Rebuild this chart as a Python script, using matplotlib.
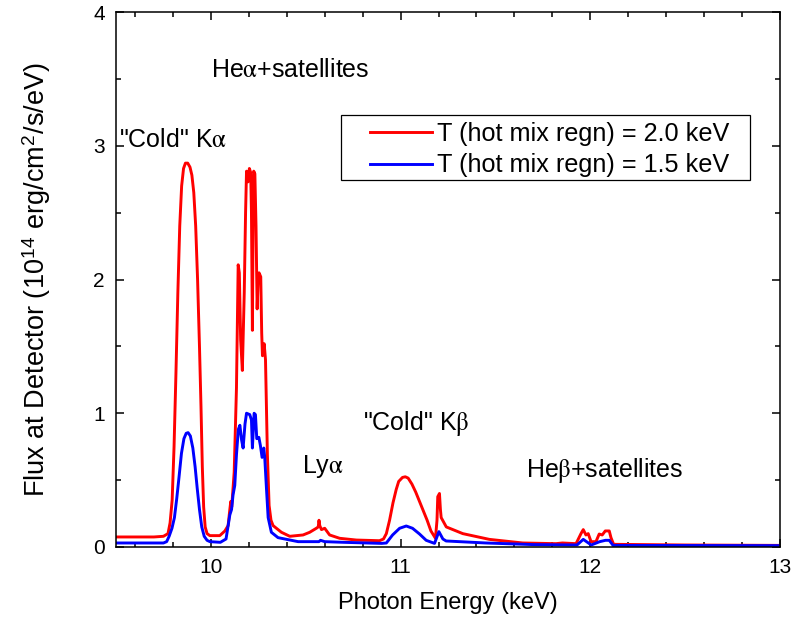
import matplotlib
matplotlib.use("Agg")
import matplotlib.pyplot as plt
from matplotlib.ticker import MultipleLocator
from matplotlib.patches import Rectangle

plt.rcParams['font.family'] = ['Liberation Sans', 'DejaVu Sans']
plt.rcParams['mathtext.fontset'] = 'stix'

# ---- data ----
red_energy = [9.50, 9.70, 9.75, 9.774, 9.785, 9.796, 9.806, 9.816, 9.826, 9.836, 9.846, 9.856, 9.866,
              9.878, 9.890, 9.900, 9.910, 9.920, 9.930, 9.940, 9.948, 9.955, 9.962, 9.970, 9.980,
              9.995, 10.047,
              10.074, 10.091, 10.100, 10.105, 10.110, 10.123, 10.135, 10.144, 10.150, 10.157, 10.166,
              10.176, 10.183, 10.188, 10.196, 10.203, 10.210, 10.214, 10.219, 10.223, 10.226, 10.232,
              10.238, 10.244, 10.249, 10.254, 10.263, 10.268, 10.272, 10.281, 10.288, 10.298, 10.307,
              10.317, 10.328, 10.372, 10.416, 10.486, 10.521, 10.556, 10.566, 10.570, 10.574, 10.583,
              10.600, 10.626, 10.679, 10.767, 10.889, 10.910, 10.925, 10.942, 10.960, 10.977, 10.990,
              11.010, 11.025, 11.040, 11.060, 11.080, 11.100, 11.120, 11.140, 11.160, 11.184, 11.192,
              11.196, 11.205, 11.210, 11.214, 11.241,
              11.328, 11.468, 11.644, 11.819, 11.853, 11.925, 11.951, 11.963, 11.977, 11.989, 12.004,
              12.030, 12.047, 12.063, 12.079, 12.100, 12.109, 12.123, 12.500, 13.000]
red_flux = [0.075, 0.075, 0.08, 0.10, 0.18, 0.35, 0.75, 1.30, 1.90, 2.40, 2.70, 2.83, 2.87,
            2.87, 2.84, 2.78, 2.65, 2.40, 2.00, 1.50, 1.05, 0.60, 0.30, 0.15, 0.10,
            0.085, 0.085,
            0.12, 0.16, 0.28, 0.34, 0.30, 0.56, 1.19, 2.11, 2.05, 1.55, 1.32,
            1.90, 2.50, 2.81, 2.73, 2.83, 2.80, 2.50, 1.62, 2.50, 2.81, 2.79,
            2.40, 1.78, 2.00, 2.05, 2.02, 1.60, 1.43, 1.52, 1.40, 0.69, 0.31,
            0.20, 0.16, 0.11, 0.08, 0.09, 0.11, 0.14, 0.15, 0.20, 0.16, 0.13,
            0.14, 0.09, 0.065, 0.052, 0.047, 0.06, 0.10, 0.20, 0.33, 0.43, 0.49,
            0.52, 0.525, 0.515, 0.47, 0.41, 0.34, 0.27, 0.20, 0.12, 0.065, 0.20,
            0.376, 0.40, 0.28, 0.22, 0.15,
            0.10, 0.057, 0.03, 0.025, 0.03, 0.025, 0.10, 0.13, 0.09, 0.10, 0.04,
            0.04, 0.097, 0.09, 0.12, 0.12, 0.07, 0.02, 0.015, 0.012]

blue_energy = [9.50, 9.75, 9.767, 9.780, 9.795, 9.808, 9.820, 9.832, 9.845, 9.858, 9.870, 9.880,
               9.892, 9.905, 9.917, 9.928, 9.940, 9.952, 9.965, 9.980, 9.995,
               10.050, 10.080, 10.100, 10.109, 10.117, 10.126, 10.135,
               10.145, 10.153, 10.162, 10.170, 10.180, 10.188, 10.205, 10.214, 10.219, 10.228,
               10.235, 10.242, 10.253, 10.261, 10.270, 10.279, 10.284, 10.293, 10.302, 10.319,
               10.354, 10.460, 10.570, 10.578, 10.600, 10.700, 10.900, 10.925, 10.958, 10.995,
               11.030, 11.063, 11.100, 11.135, 11.179, 11.202, 11.223, 11.240, 11.450, 11.700,
               11.930, 11.963, 11.990, 12.005, 12.050, 12.080, 12.100, 12.120, 13.000]
blue_flux = [0.03, 0.03, 0.04, 0.08, 0.14, 0.22, 0.36, 0.52, 0.70, 0.81, 0.85, 0.855,
             0.83, 0.74, 0.60, 0.44, 0.28, 0.15, 0.08, 0.05, 0.04,
             0.035, 0.06, 0.24, 0.28, 0.39, 0.46, 0.69,
             0.88, 0.91, 0.80, 0.74, 0.92, 1.00, 0.99, 0.95, 0.74, 1.00,
             0.99, 0.81, 0.82, 0.76, 0.67, 0.74, 0.67, 0.44, 0.22, 0.11,
             0.07, 0.04, 0.04, 0.05, 0.04, 0.035, 0.027, 0.03, 0.09, 0.14,
             0.157, 0.14, 0.097, 0.05, 0.027, 0.115, 0.06, 0.045, 0.03, 0.018,
             0.015, 0.057, 0.03, 0.015, 0.04, 0.05, 0.05, 0.012, 0.01]

series_labels = ["T (hot mix regn) = 2.0 keV", "T (hot mix regn) = 1.5 keV"]
x_ticks = [10, 11, 12, 13]
y_ticks = [0, 1, 2, 3, 4]

annotations = [
    (10.00, 3.57, r"He$\mathrm{\alpha}$+satellites"),
    (9.515, 3.04, r'"Cold" K$\mathrm{\alpha}$'),
    (10.482, 0.60, r"Ly$\mathrm{\alpha}$"),
    (10.80, 0.92, r'"Cold" K$\mathrm{\beta}$'),
    (11.66, 0.57, r"He$\mathrm{\beta}$+satellites"),
]

# ---- figure ----
fig = plt.figure(figsize=(7.93, 6.25), dpi=100)
ax = fig.add_axes([116/793, 1-547/625, (780-116)/793, (547-12)/625])

ax.plot(red_energy, red_flux, color='#ff0000', lw=2.1, label=series_labels[0])
ax.plot(blue_energy, blue_flux, color='#0000ff', lw=2.1, label=series_labels[1])

ax.set_xlim(9.5, 13)
ax.set_ylim(0, 4)
ax.set_xticks(x_ticks)
ax.set_yticks(y_ticks)
ax.xaxis.set_minor_locator(MultipleLocator(0.2))
ax.yaxis.set_minor_locator(MultipleLocator(0.5))
ax.tick_params(which='both', direction='in', top=True, right=True, width=1.1)
ax.tick_params(which='major', length=6, labelsize=15, pad=8)
ax.tick_params(which='minor', length=3.5)
for s in ax.spines.values():
    s.set_linewidth(1.1)

ax.set_xlabel("Photon Energy (keV)", fontsize=17, labelpad=11)
ax.set_ylabel(r"Flux at Detector (10$^{\mathregular{14}}$ erg/cm$^{\mathregular{2}}$/s/eV)",
              fontsize=19.5, labelpad=29)

for x, y, t in annotations:
    ax.text(x, y, t, fontsize=18, ha='left', va='center')

# legend frame (drawn separately to match the reference padding)
frame = Rectangle((0.339, 0.686), 0.955 - 0.339, 0.807 - 0.686, transform=ax.transAxes,
                  facecolor='white', edgecolor='black', lw=0.9, zorder=4)
ax.add_patch(frame)
leg = ax.legend(loc='upper right', bbox_to_anchor=(0.932, 0.804), fontsize=18.2,
                frameon=False, handlelength=2.45, handletextpad=0.2, borderpad=0.2,
                labelspacing=0.3, borderaxespad=0)
leg.set_zorder(5)

fig.savefig("out.png", dpi=100)
